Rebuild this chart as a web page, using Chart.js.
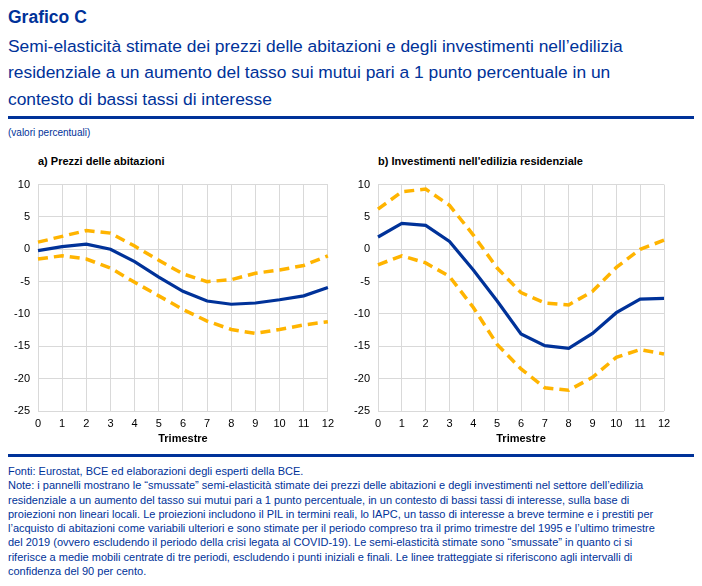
<!DOCTYPE html>
<html>
<head>
<meta charset="utf-8">
<script src="https://cdn.jsdelivr.net/npm/chart.js@4"></script>
<style>
  html, body { margin:0; padding:0; background:#fff; }
  body { width:702px; height:586px; position:relative; overflow:hidden; font-family:"Liberation Sans", Arial, sans-serif; }
  .t { position:absolute; white-space:nowrap; color:#003299; }
  .rule { position:absolute; left:8px; width:686px; height:3px; background:#003299; }
  .cw { position:absolute; }
</style>
</head>
<body>
<div class="t" style="left:8px; top:6px; font-size:17.5px; font-weight:bold; line-height:22px;">Grafico C</div>
<div class="t" style="left:8px; top:33px; font-size:17.4px; line-height:26.3px;">Semi-elasticità stimate dei prezzi delle abitazioni e degli investimenti nell’edilizia<br>residenziale a un aumento del tasso sui mutui pari a 1 punto percentuale in un<br>contesto di bassi tassi di interesse</div>
<div class="rule" style="top:116px;"></div>
<div class="t" style="left:8px; top:127px; font-size:10px; line-height:12px;">(valori percentuali)</div>

<div class="t" style="left:38px; top:154px; font-size:11px; font-weight:bold; color:#000; line-height:14px;">a) Prezzi delle abitazioni</div>
<div class="t" style="left:378px; top:154px; font-size:11px; font-weight:bold; color:#000; line-height:14px;">b) Investimenti nell'edilizia residenziale</div>

<div class="cw" style="left:0px; top:170px; width:340px; height:280px;"><canvas id="ca"></canvas></div>
<div class="cw" style="left:340px; top:170px; width:362px; height:280px;"><canvas id="cb"></canvas></div>

<div class="rule" style="top:454px;"></div>
<div class="t" style="left:8px; top:464px; font-size:11px; line-height:14.3px;">Fonti: Eurostat, BCE ed elaborazioni degli esperti della BCE.<br>Note: i pannelli mostrano le “smussate” semi-elasticità stimate dei prezzi delle abitazioni e degli investimenti nel settore dell’edilizia<br>residenziale a un aumento del tasso sui mutui pari a 1 punto percentuale, in un contesto di bassi tassi di interesse, sulla base di<br>proiezioni non lineari locali. Le proiezioni includono il PIL in termini reali, lo IAPC, un tasso di interesse a breve termine e i prestiti per<br>l’acquisto di abitazioni come variabili ulteriori e sono stimate per il periodo compreso tra il primo trimestre del 1995 e l’ultimo trimestre<br>del 2019 (ovvero escludendo il periodo della crisi legata al COVID-19). Le semi-elasticità stimate sono “smussate” in quanto ci si<br>riferisce a medie mobili centrate di tre periodi, escludendo i punti iniziali e finali. Le linee tratteggiate si riferiscono agli intervalli di<br>confidenza del 90 per cento.</div>

<script>
// Data
const quarters = ["0","1","2","3","4","5","6","7","8","9","10","11","12"];
const pricesCentral = [-0.2, 0.4, 0.8, 0.0, -1.9, -4.3, -6.5, -8.0, -8.5, -8.3, -7.8, -7.2, -5.9];
const pricesUpper   = [1.1, 2.0, 2.9, 2.5, 0.5, -1.7, -3.8, -5.0, -4.7, -3.7, -3.2, -2.5, -1.0];
const pricesLower   = [-1.5, -1.0, -1.5, -2.9, -5.1, -7.2, -9.3, -11.1, -12.4, -13.0, -12.4, -11.7, -11.2];
const investCentral = [1.9, 4.0, 3.7, 1.2, -3.2, -8.0, -13.1, -14.9, -15.3, -13.0, -9.8, -7.7, -7.6];
const investUpper   = [6.2, 8.9, 9.3, 6.8, 2.2, -2.9, -6.7, -8.3, -8.6, -6.5, -2.8, 0.0, 1.4];
const investLower   = [-2.4, -1.0, -2.1, -4.2, -9.0, -14.7, -18.5, -21.4, -21.8, -19.8, -16.7, -15.5, -16.2];
const yMin = -25, yMax = 10, yStep = 5;
const xTitle = "Trimestre";

const BLUE = "#003299", ORANGE = "#FFB400", GRID = "#D9D9D9";
Chart.defaults.font.family = '"Liberation Sans", Arial, sans-serif';
Chart.defaults.animation = false;

function makeChart(id, central, upper, lower, padRight) {
  return new Chart(document.getElementById(id), {
    type: "line",
    data: {
      labels: quarters,
      datasets: [
        { data: upper, borderColor: ORANGE, borderWidth: 3.5, borderDash: [10, 6], pointRadius: 0, fill: false, tension: 0 },
        { data: lower, borderColor: ORANGE, borderWidth: 3.5, borderDash: [10, 6], pointRadius: 0, fill: false, tension: 0 },
        { data: central, borderColor: BLUE, borderWidth: 3.2, pointRadius: 0, fill: false, tension: 0 }
      ]
    },
    options: {
      responsive: true,
      maintainAspectRatio: false,
      layout: { padding: { top: 12, right: padRight, left: 0, bottom: 0 } },
      plugins: { legend: { display: false }, tooltip: { enabled: false } },
      scales: {
        x: {
          grid: { color: GRID, drawTicks: false, lineWidth: 1 },
          border: { display: false },
          ticks: { color: "#000", font: { size: 11 }, padding: 6, maxRotation: 0, autoSkip: false },
          title: { display: true, text: xTitle, color: "#000", font: { size: 11, weight: "bold" }, padding: { top: 2, bottom: 4 } },
          afterFit: s => { s.height = 39; }
        },
        y: {
          min: yMin, max: yMax,
          grid: { color: GRID, drawTicks: false, lineWidth: 1 },
          border: { display: false },
          ticks: { stepSize: yStep, color: "#000", font: { size: 11 }, padding: 8 },
          afterFit: s => { s.width = 38; }
        }
      }
    }
  });
}
makeChart("ca", pricesCentral, pricesUpper, pricesLower, 11);
makeChart("cb", investCentral, investUpper, investLower, 38);
</script>
</body>
</html>
